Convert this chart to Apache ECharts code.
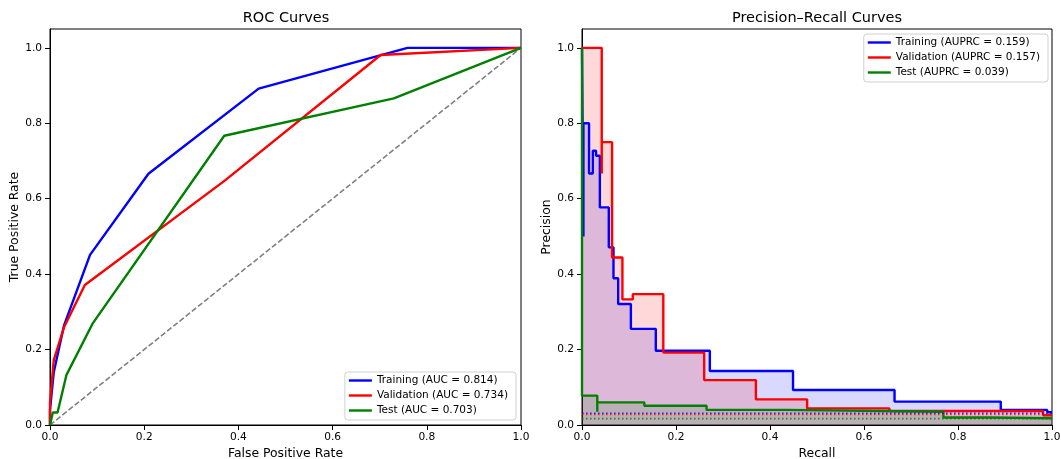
<!DOCTYPE html>
<html>
<head>
<meta charset="utf-8">
<script src="https://cdn.jsdelivr.net/npm/echarts@6/dist/echarts.min.js"></script>
<style>html,body{margin:0;padding:0;background:#fff;}#c{width:1061px;height:459px;}</style>
</head>
<body>
<div id="c"></div>
<script>
// ---------- data ----------
const tickValues = [0, 0.2, 0.4, 0.6, 0.8, 1.0];

const rocNames = ['Training (AUC = 0.814)', 'Validation (AUC = 0.734)', 'Test (AUC = 0.703)'];
const prNames = ['Training (AUPRC = 0.159)', 'Validation (AUPRC = 0.157)', 'Test (AUPRC = 0.039)'];

const rocTrainFpr = [0, 0, 0.008, 0.03, 0.085, 0.209, 0.443, 0.759, 1.0];
const rocTrainTpr = [0, 0.04, 0.14, 0.265, 0.451, 0.666, 0.892, 1.0, 1.0];
const rocValFpr = [0, 0, 0.008, 0.03, 0.074, 0.371, 0.702, 1.0];
const rocValTpr = [0, 0.06, 0.172, 0.26, 0.371, 0.648, 0.981, 1.0];
const rocTestFpr = [0, 0.006, 0.016, 0.035, 0.09, 0.37, 0.73, 1.0];
const rocTestTpr = [0, 0.033, 0.033, 0.133, 0.268, 0.767, 0.866, 1.0];
const chanceLine = [0, 1];

const prTrainRecall = [0, 0.003, 0.003, 0.015, 0.023, 0.030, 0.038, 0.057, 0.067, 0.077, 0.104, 0.157, 0.272, 0.449, 0.665, 0.891, 0.99, 1.0];
const prTrainPrec = [1.0, 0.5, 0.8, 0.667, 0.727, 0.714, 0.577, 0.471, 0.389, 0.321, 0.255, 0.197, 0.143, 0.093, 0.062, 0.040, 0.034, 0.034];
const prValRecall = [0, 0.042, 0.042, 0.064, 0.086, 0.108, 0.173, 0.260, 0.370, 0.479, 0.654, 0.981, 1.0];
const prValPrec = [1.0, 0.667, 0.75, 0.444, 0.333, 0.347, 0.192, 0.119, 0.068, 0.044, 0.037, 0.026, 0.026];
const prTestRecall = [0, 0, 0.0325, 0.0325, 0.1326, 0.265, 0.434, 0.769, 0.868, 1.0];
const prTestPrec = [1.0, 0.078, 0.035, 0.060, 0.051, 0.040, 0.035, 0.020, 0.018, 0.018];
const baselines = [0.031, 0.028, 0.017];

const colors = ['#0000ff', '#ff0000', '#008000'];

// ---------- build ----------
const zip = (a, b) => a.map((v, i) => [v, b[i]]);
const FONT = 'DejaVu Sans';

function xAxis(idx, name) {
  return {
    type: 'value', gridIndex: idx, min: 0, max: 1, interval: 0.2,
    name: name, nameLocation: 'middle', nameGap: 22,
    nameTextStyle: {fontFamily: FONT, fontSize: 12.4, color: '#000'},
    axisLine: {show: true, onZero: false, lineStyle: {color: '#000', width: 1}},
    axisTick: {show: true, length: 5, lineStyle: {color: '#000'}},
    axisLabel: {fontFamily: FONT, fontSize: 10.6, color: '#000', margin: 7, formatter: v => v.toFixed(1)},
    splitLine: {show: false}
  };
}
function yAxis(idx, name, gap) {
  return {
    type: 'value', gridIndex: idx, min: 0, max: 1.05,
    name: name, nameLocation: 'middle', nameGap: gap,
    nameTextStyle: {fontFamily: FONT, fontSize: 12.4, color: '#000'},
    axisLine: {show: true, onZero: false, lineStyle: {color: '#000', width: 1}},
    axisTick: {show: true, length: 5, lineStyle: {color: '#000'}, customValues: tickValues},
    axisLabel: {fontFamily: FONT, fontSize: 10.6, color: '#000', margin: 8, customValues: tickValues, formatter: v => v.toFixed(1)},
    splitLine: {show: false}
  };
}

const series = [];
const rocData = [zip(rocTrainFpr, rocTrainTpr), zip(rocValFpr, rocValTpr), zip(rocTestFpr, rocTestTpr)];
rocData.forEach((d, i) => series.push({
  name: rocNames[i], type: 'line', xAxisIndex: 0, yAxisIndex: 0, data: d,
  showSymbol: false, symbol: 'none', z: 3,
  lineStyle: {color: colors[i], width: 2.4}, itemStyle: {color: colors[i]}
}));
series.push({
  name: 'chance', type: 'line', xAxisIndex: 0, yAxisIndex: 0,
  data: zip(chanceLine, chanceLine), showSymbol: false, symbol: 'none', z: 2,
  lineStyle: {color: '#808080', width: 1.6, type: [5.5, 2.4]}
});

const prData = [zip(prTrainRecall, prTrainPrec), zip(prValRecall, prValPrec), zip(prTestRecall, prTestPrec)];
prData.forEach((d, i) => series.push({
  name: prNames[i], type: 'line', xAxisIndex: 1, yAxisIndex: 1, data: d,
  step: 'end', showSymbol: false, symbol: 'none', z: 3,
  lineStyle: {color: colors[i], width: 2.4}, itemStyle: {color: colors[i]},
  areaStyle: {color: colors[i], opacity: 0.15, origin: 'start'}
}));
baselines.forEach((b, i) => series.push({
  name: 'base' + i, type: 'line', xAxisIndex: 1, yAxisIndex: 1,
  data: [[0, b], [1, b]], showSymbol: false, symbol: 'none', z: 4,
  lineStyle: {color: colors[i], width: 1.6, type: [1.6, 2.4], opacity: 0.8}
}));

function legend(names, pos) {
  return Object.assign({
    data: names.map(n => ({name: n, icon: 'rect'})),
    orient: 'vertical', itemWidth: 23, itemHeight: 2.4, itemGap: 2,
    padding: [2, 8, 3, 4],
    backgroundColor: 'rgba(255,255,255,0.8)', borderColor: '#d0d0d0', borderWidth: 1, borderRadius: 3,
    textStyle: {fontFamily: FONT, fontSize: 10.5, color: '#000', lineHeight: 13},
    selectedMode: false
  }, pos);
}

const option = {
  animation: false,
  backgroundColor: '#fff',
  title: [
    {text: 'ROC Curves', left: 286, top: 11, textAlign: 'center', padding: 0,
     textStyle: {fontFamily: FONT, fontSize: 14.5, fontWeight: 'normal', color: '#000'}},
    {text: 'Precision\u2013Recall Curves', left: 817, top: 11, textAlign: 'center', padding: 0,
     textStyle: {fontFamily: FONT, fontSize: 14.5, fontWeight: 'normal', color: '#000'}}
  ],
  grid: [
    {left: 50, top: 29, width: 471, height: 396, show: true, borderColor: '#000', borderWidth: 1, backgroundColor: 'transparent', outerBoundsMode: 'none', containLabel: false},
    {left: 582, top: 29, width: 470, height: 396, show: true, borderColor: '#000', borderWidth: 1, backgroundColor: 'transparent', outerBoundsMode: 'none', containLabel: false}
  ],
  xAxis: [xAxis(0, 'False Positive Rate'), xAxis(1, 'Recall')],
  yAxis: [yAxis(0, 'True Positive Rate', 24), yAxis(1, 'Precision', 24)],
  legend: [
    legend(rocNames, {right: 545, bottom: 39}),
    legend(prNames, {right: 13, top: 34})
  ],
  series: series
};

const chart = echarts.init(document.getElementById('c'), null, {renderer: 'canvas'});
chart.setOption(option);
</script>
</body>
</html>
